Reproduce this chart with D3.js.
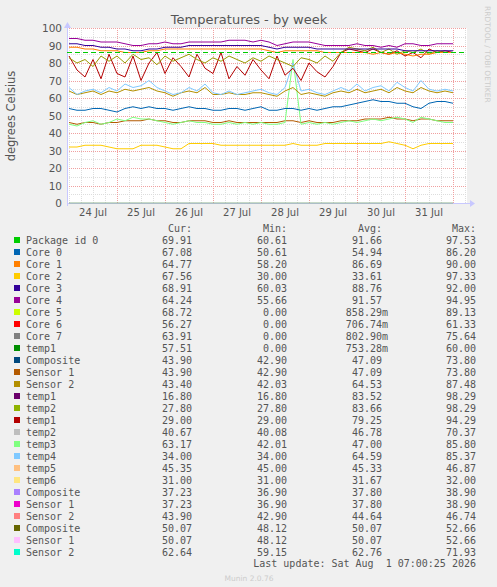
<!DOCTYPE html>
<html><head><meta charset="utf-8">
<script src="https://cdn.jsdelivr.net/npm/d3@7"></script>
<style>body{margin:0;background:#f0f0f0}</style>
</head><body><div id="chart"></div>
<script>
// time: 24 Jul 00:00, one value every 4 hours
var startTime = new Date(2026, 6, 24, 0, 0);
var stepHours = 4;
var dayLabels = ["24 Jul","25 Jul","26 Jul","27 Jul","28 Jul","29 Jul","30 Jul","31 Jul"];
var yTicks = [0,10,20,30,40,50,60,70,80,90,100];
var warnLevel = 86;

var core4 = [94,94,93,93,92,92,92,91,90,90,91,91,92,91,91,92,92,92,92,92,93,93,93,92,93,92,90,91,92,92,92,91,90,90,90,90,91,90,90,89,90,89,91,91,90,90,91,91,91];
var core3 = [91,91,90,90,89,89,88,88,87,87,88,88,89,89,89,90,90,90,90,90,90,90,90,90,90,89,88,89,89,89,89,88,88,88,88,88,88,88,88,88,88,88,87,87,87,87,87,87,87];
var core1 = [89,89,88,88,87,87,87,86,86,86,87,87,88,88,88,88,88,88,88,88,88,88,88,88,88,87,86,87,87,87,87,87,86,86,86,86,86,86,85,86,85,86,85,84,85,85,86,86,86];
var temp2b = [83,80,82,78,84,81,84,80,85,82,83,79,84,81,83,85,82,80,83,81,84,82,80,83,81,84,82,80,78,83,82,80,84,81,86,89,88,87,89,86,88,85,87,86,88,85,87,86,86];
var temp1b = [84,76,72,82,71,85,74,72,84,70,80,86,74,83,78,72,85,77,74,86,71,78,73,82,76,71,84,73,77,70,80,75,72,78,86,88,87,86,88,86,85,87,84,86,83,88,86,87,86];
var temp4 = [66,62,64,65,63,66,64,68,66,67,70,66,64,62,63,66,64,68,63,62,64,62,63,64,65,63,62,66,80,64,65,63,62,64,66,64,68,64,66,67,64,69,66,64,70,65,64,65,64];
var sensor2 = [64,62,63,64,62,64,63,65,64,65,66,64,63,61,63,64,63,66,62,62,63,62,62,63,63,62,61,64,66,62,63,62,61,63,64,63,65,63,64,65,63,66,64,63,66,64,63,64,63];
var core0 = [54,53,53,54,54,53,52,54,55,54,55,54,54,53,54,55,54,54,53,53,54,54,53,54,55,53,53,54,54,53,54,53,54,55,55,56,57,58,59,58,58,57,57,55,54,57,58,58,57];
var temp3 = [45,44,46,47,45,46,48,47,49,48,48,47,46,45,46,47,46,46,45,45,46,45,46,45,46,45,45,46,82,45,46,45,46,45,46,47,46,47,48,47,48,49,48,46,49,48,47,46,46];
var sensor1 = [46,45,46,46,45,46,46,47,47,47,48,47,47,46,46,47,47,47,46,46,47,46,46,46,46,46,46,47,47,46,47,46,46,46,47,47,47,48,48,48,49,48,48,47,48,48,47,47,47];
var core2 = [32,32,33,33,33,32,31,31,31,33,33,33,32,31,31,34,34,34,34,33,33,33,33,33,33,33,33,33,34,33,33,33,34,34,34,34,34,34,34,34,35,34,33,31,33,34,34,34,34];
var zeroSeries = core2.map(function(){ return 0; });

var legendNames = ["Package id 0","Core 0","Core 1","Core 2","Core 3","Core 4","Core 5","Core 6","Core 7","temp1","Composite","Sensor 1","Sensor 2","temp1","temp2","temp1","temp2","temp3","temp4","temp5","temp6","Composite","Sensor 1","Sensor 2","Composite","Sensor 1","Sensor 2"];
var legendColors = ["#00CC00","#0066B3","#FF8000","#FFCC00","#330099","#990099","#CCFF00","#FF0000","#808080","#008F00","#00487D","#B35A00","#B38F00","#6B006B","#8FB300","#B30000","#BEBEBE","#80FF80","#80C9FF","#FFC080","#FFE680","#AA80FF","#EE00CC","#FF8080","#666600","#FFBFFF","#00FFCC"];
var curVals = ["69.91","67.08","64.77","67.56","68.91","64.24","68.72","56.27","63.91","57.51","43.90","43.90","43.40","16.80","27.80","29.00","40.67","63.17","34.00","45.35","31.00","37.23","37.23","43.90","50.07","50.07","62.64"];
var minVals = ["60.61","50.61","58.20","30.00","60.03","55.66","0.00","0.00","0.00","0.00","42.90","42.90","42.03","16.80","27.80","29.00","40.08","42.01","34.00","45.00","31.00","36.90","36.90","42.90","48.12","48.12","59.15"];
var avgVals = ["91.66","54.94","86.69","33.61","88.76","91.57","858.29m","706.74m","802.90m","753.28m","47.09","47.09","64.53","83.52","83.66","79.25","46.78","47.00","64.59","45.33","31.67","37.80","37.80","44.64","50.07","50.07","62.76"];
var maxVals = ["97.53","86.20","90.00","97.33","92.00","94.95","89.13","61.33","75.64","60.00","73.80","73.80","87.48","98.29","98.29","94.29","70.37","85.80","85.37","46.87","32.00","38.90","38.90","46.74","52.66","52.66","71.93"];

var W = 497, H = 587;
var svg = d3.select("#chart").append("svg").attr("width", W).attr("height", H)
    .style("font-family", "'DejaVu Sans', sans-serif");

var x = d3.scaleTime()
    .domain([new Date(2026, 6, 23, 23, 0), new Date(2026, 7, 1, 7, 0)])
    .range([67, 467]);
var y = d3.scaleLinear().domain([0, 100]).range([203, 28]);

svg.append("rect").attr("x", 67).attr("y", 28).attr("width", 400).attr("height", 175).attr("fill", "#fff");

// minor grid
var minorTimes = d3.timeHour.every(6).range(x.domain()[0], x.domain()[1]);
svg.selectAll(".vmin").data(minorTimes).enter().append("line")
    .attr("x1", function(d){ return Math.round(x(d)) + 0.5; }).attr("x2", function(d){ return Math.round(x(d)) + 0.5; })
    .attr("y1", 28).attr("y2", 203).attr("stroke", "#ddd").attr("stroke-dasharray", "1,1");
svg.selectAll(".hmin").data(d3.range(5, 100, 10)).enter().append("line")
    .attr("x1", 67).attr("x2", 467)
    .attr("y1", function(d){ return Math.round(y(d)) + 0.5; }).attr("y2", function(d){ return Math.round(y(d)) + 0.5; })
    .attr("stroke", "#ddd").attr("stroke-dasharray", "1,1");
// major grid
var dayLines = d3.timeDay.range(new Date(2026, 6, 25), new Date(2026, 7, 1, 1));
svg.selectAll(".vmaj").data(dayLines).enter().append("line")
    .attr("x1", function(d){ return Math.round(x(d)) + 0.5; }).attr("x2", function(d){ return Math.round(x(d)) + 0.5; })
    .attr("y1", 28).attr("y2", 203).attr("stroke", "#f0a0a0").attr("stroke-dasharray", "1,1");
svg.selectAll(".hmaj").data(yTicks.slice(1)).enter().append("line")
    .attr("x1", 67).attr("x2", 467)
    .attr("y1", function(d){ return Math.round(y(d)) + 0.5; }).attr("y2", function(d){ return Math.round(y(d)) + 0.5; })
    .attr("stroke", "#f0a0a0").attr("stroke-dasharray", "1,1");

// axes
svg.append("line").attr("x1", 67).attr("x2", 470).attr("y1", 203.5).attr("y2", 203.5).attr("stroke", "#c8c8ff");
svg.append("line").attr("x1", 67.5).attr("x2", 67.5).attr("y1", 24).attr("y2", 206).attr("stroke", "#c8c8ff");
svg.append("path").attr("d", "M470,200 L475,203.5 L470,207 Z").attr("fill", "#c8c8ff");
svg.append("path").attr("d", "M64,28 L67.5,22 L71,28 Z").attr("fill", "#c8c8ff");

svg.selectAll(".yt").data(yTicks).enter().append("text")
    .attr("x", 62).attr("y", function(d){ return y(d) + 4; }).attr("text-anchor", "end")
    .attr("font-size", 10.5).attr("fill", "#555").text(function(d){ return d; });
svg.selectAll(".xt").data(dayLabels).enter().append("text")
    .attr("x", function(d, i){ return x(new Date(2026, 6, 24 + i, 12)); }).attr("y", 216)
    .attr("text-anchor", "middle").attr("font-size", 10).attr("fill", "#555").text(function(d){ return d; });

svg.append("text").attr("x", 249).attr("y", 24).attr("text-anchor", "middle")
    .attr("font-size", 13).attr("fill", "#555").text("Temperatures - by week");
svg.append("text").attr("transform", "translate(15,116) rotate(-90)").attr("text-anchor", "middle")
    .attr("font-size", 11.5).attr("fill", "#555").text("degrees Celsius");
svg.append("text").attr("transform", "translate(485,6) rotate(90)")
    .attr("font-size", 7.5).attr("fill", "#ccc").text("RRDTOOL / TOBI OETIKER");

// series
function tAt(i){ return new Date(startTime.getTime() + i * stepHours * 3600000); }
var line = d3.line().x(function(d, i){ return x(tAt(i)); }).y(function(d){ return y(d); });
var series = [
  [zeroSeries, "#8fb38f"],
  [core2, "#FFCC00"], [sensor1, "#B35A00"], [temp3, "#80FF80"], [core0, "#0066B3"],
  [sensor2, "#B38F00"], [temp4, "#80C9FF"], [temp1b, "#B30000"], [temp2b, "#999900"],
  [core1, "#FF8000"], [core3, "#330099"], [core4, "#990099"]
];
svg.selectAll(".s").data(series).enter().append("path")
    .attr("d", function(d){ return line(d[0]); }).attr("fill", "none")
    .attr("stroke", function(d){ return d[1]; }).attr("stroke-width", 1);
svg.append("line").attr("x1", 67).attr("x2", 467)
    .attr("y1", y(warnLevel)).attr("y2", y(warnLevel))
    .attr("stroke", "#00CC00").attr("stroke-width", 1).attr("stroke-dasharray", "5,3");

// legend
var mono = "'DejaVu Sans Mono', monospace";
var hdr = [["Cur:", 192], ["Min:", 287], ["Avg:", 382], ["Max:", 476]];
svg.selectAll(".hd").data(hdr).enter().append("text")
    .attr("x", function(d){ return d[1]; }).attr("y", 232).attr("text-anchor", "end")
    .attr("font-family", mono).attr("font-size", 10).attr("fill", "#555").text(function(d){ return d[0]; });
var rows = svg.selectAll(".lg").data(legendNames).enter().append("g")
    .attr("transform", function(d, i){ return "translate(0," + (244 + i * 12) + ")"; });
rows.append("rect").attr("x", 14).attr("y", -7).attr("width", 6).attr("height", 6)
    .attr("fill", function(d, i){ return legendColors[i]; });
rows.append("text").attr("x", 26).attr("font-family", mono).attr("font-size", 10).attr("fill", "#555").text(function(d){ return d; });
var cols = [[curVals, 192], [minVals, 287], [avgVals, 382], [maxVals, 476]];
cols.forEach(function(c){
  rows.append("text").attr("x", function(d, i){ return c[1] + (/m$/.test(c[0][i]) ? 6 : 0); })
      .attr("text-anchor", "end").attr("font-family", mono).attr("font-size", 10).attr("fill", "#555")
      .text(function(d, i){ return c[0][i]; });
});
svg.append("text").attr("x", 476).attr("y", 567).attr("text-anchor", "end").attr("font-family", mono)
    .attr("font-size", 10).attr("fill", "#555").attr("xml:space", "preserve").style("white-space", "pre")
    .text("Last update: Sat Aug  1 07:00:25 2026");
svg.append("text").attr("x", 249).attr("y", 581).attr("text-anchor", "middle")
    .attr("font-size", 7.5).attr("fill", "#ccc").text("Munin 2.0.76");
</script></body></html>
